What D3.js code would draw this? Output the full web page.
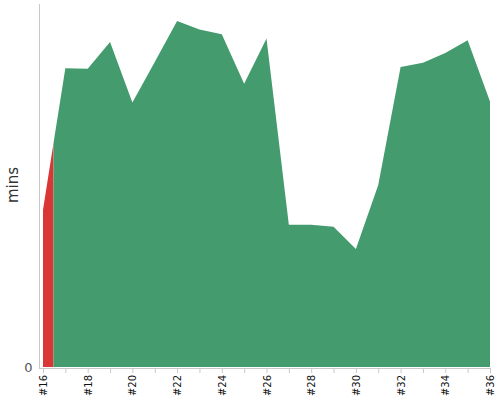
<!DOCTYPE html>
<head>
<meta charset="utf-8">
</head>
<style>
  body {
    margin: 0;
    font-family: 'DejaVu Sans', sans-serif;
    background: #fff;
  }
  .axis .domain, .axis line {
    stroke: #c8c8c8;
  }
</style>
<svg width="500" height="400"></svg>
<script src="https://d3js.org/d3.v7.min.js"></script>
<script>
// issue numbers and minutes per issue
var issues = [16, 17, 18, 19, 20, 21, 22, 23, 24, 25, 26, 27, 28, 29, 30, 31, 32, 33, 34, 35, 36];
var mins = [26.0, 49.4, 49.3, 53.7, 43.7, 50.4, 57.2, 55.8, 55.0, 46.8, 54.3,
            23.5, 23.5, 23.2, 19.5, 30.1, 49.6, 50.3, 51.9, 54.0, 43.9];
var splitAt = 16.47;   // red part before this, green after
var yTicks = [0];

var svg = d3.select("svg"),
    margin = {top: 4, right: 10, bottom: 33, left: 43},
    width = 500 - margin.left - margin.right,
    height = 400 - margin.top - margin.bottom;

var data = issues.map(function(d, i) { return {issue: d, value: mins[i]}; });

var x = d3.scaleLinear().domain([16, 36]).range([margin.left, margin.left + width]);
var y = d3.scaleLinear().domain([0, 60]).range([margin.top + height, margin.top]);

var area = d3.area()
    .x(function(d) { return x(d.issue); })
    .y0(y(0))
    .y1(function(d) { return y(d.value); });

var defs = svg.append("defs");
defs.append("clipPath").attr("id", "clipRed")
  .append("rect")
    .attr("x", x(16)).attr("y", 0)
    .attr("width", x(splitAt) - x(16)).attr("height", 400);
defs.append("clipPath").attr("id", "clipGreen")
  .append("rect")
    .attr("x", x(splitAt)).attr("y", 0)
    .attr("width", x(36) - x(splitAt)).attr("height", 400);

svg.append("path")
    .datum(data)
    .attr("clip-path", "url(#clipRed)")
    .attr("fill", "#d93636")
    .attr("d", area);

svg.append("path")
    .datum(data)
    .attr("clip-path", "url(#clipGreen)")
    .attr("fill", "#449c6e")
    .attr("d", area);

// x axis
var xAxis = svg.append("g")
    .attr("class", "axis")
    .attr("transform", "translate(0," + (y(0) + 1) + ")")
    .call(d3.axisBottom(x)
      .tickValues(issues)
      .tickSize(5)
      .tickSizeOuter(0)
      .tickFormat(function(d) { return d % 2 === 0 ? "#" + d : ""; }));
xAxis.select(".domain").attr("d", "M" + (margin.left - 4) + ",0.5H" + (x(36) + 1));
xAxis.selectAll("text")
    .attr("transform", "rotate(-90)")
    .attr("text-anchor", "end")
    .attr("x", -7)
    .attr("y", 0)
    .attr("dy", "0.35em")
    .attr("fill", "#111")
    .attr("font-size", 10)
    .attr("font-family", "'DejaVu Sans', sans-serif");

// y axis
var yAxis = svg.append("g")
    .attr("class", "axis")
    .attr("transform", "translate(" + (margin.left - 3.5) + ",0)")
    .call(d3.axisLeft(y).tickValues(yTicks).tickSize(0).tickPadding(7));
yAxis.select(".domain").attr("d", "M0," + margin.top + "V" + (y(0) + 1));
yAxis.selectAll("text")
    .attr("fill", "#555")
    .attr("font-size", 13)
    .attr("font-family", "'DejaVu Sans', sans-serif");

svg.append("text")
    .attr("transform", "translate(18," + 185 + ") rotate(-90)")
    .attr("text-anchor", "middle")
    .attr("fill", "#333")
    .attr("font-size", 15)
    .text("mins");
</script>
